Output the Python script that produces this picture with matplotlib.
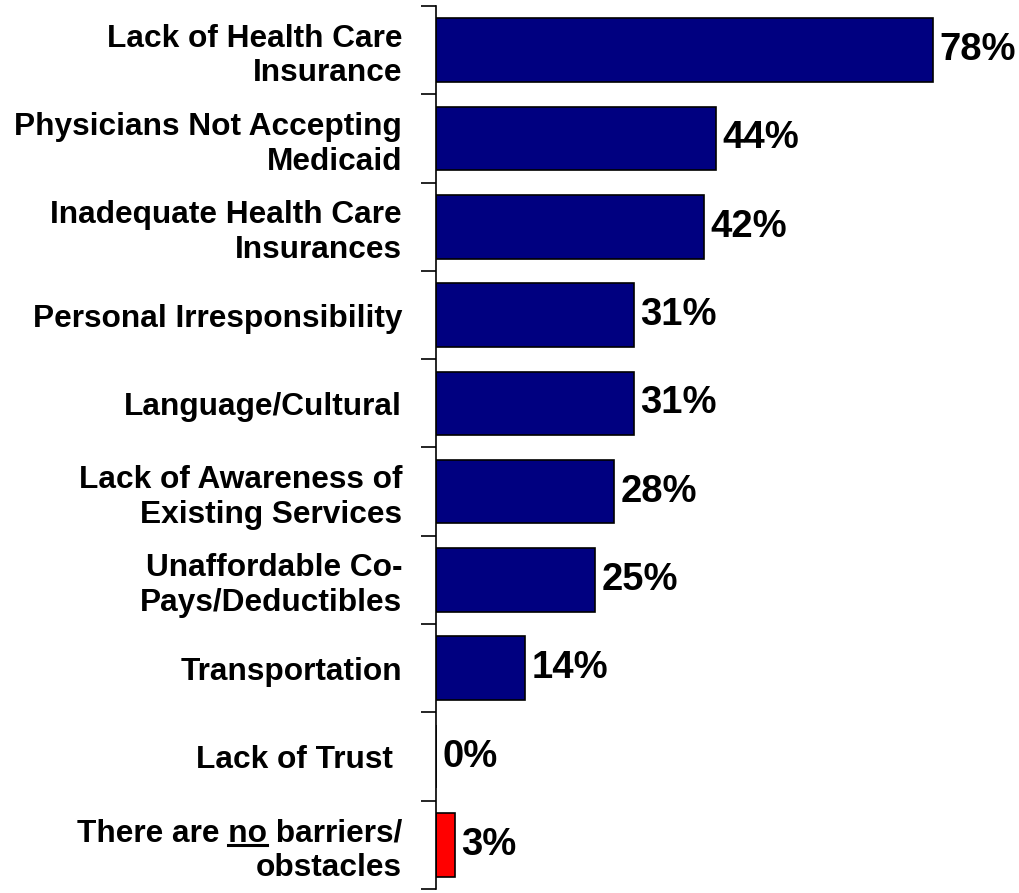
import matplotlib
matplotlib.use("Agg")
import matplotlib.pyplot as plt
from matplotlib.font_manager import FontProperties
from matplotlib.lines import Line2D

categories = [
    "Lack of Health Care\nInsurance",
    "Physicians Not Accepting\nMedicaid",
    "Inadequate Health Care\nInsurances",
    "Personal Irresponsibility",
    "Language/Cultural",
    "Lack of Awareness of\nExisting Services",
    "Unaffordable Co-\nPays/Deductibles",
    "Transportation",
    "Lack of Trust ",
    "There are no barriers/\nobstacles",
]
values = [78, 44, 42, 31, 31, 28, 25, 14, 0, 3]
bar_colors = ["#000080"] * 9 + ["#ff0000"]

plt.rcParams["font.family"] = ["Liberation Sans", "DejaVu Sans"]
plt.rcParams["font.weight"] = "bold"

label_size = 22.8
value_size = 27.5

fig = plt.figure(figsize=(10.19, 8.93), dpi=100)
ax = fig.add_axes([0.428, 0.0045, 0.572, 0.9888])

ypos = list(range(len(categories)))
ax.barh(ypos, values, height=0.72, color=bar_colors, edgecolor="black", linewidth=1.2)
ax.set_ylim(len(categories) - 0.5, -0.5)
ax.set_xlim(0, 91.5)

for y, v in zip(ypos, values):
    ax.text(v + 1.0, y, f"{v}%", va="center", ha="left", fontsize=value_size, fontweight="bold")

# category labels sit between the ticks, ticks sit at the boundaries
ax.set_yticks(ypos)
ax.set_yticklabels(categories, fontsize=label_size, fontweight="bold")
ax.tick_params(axis="y", which="major", length=0, pad=24.5)
ax.set_yticks([i - 0.5 for i in range(len(categories) + 1)], minor=True)
ax.tick_params(axis="y", which="minor", length=11, width=1.2, direction="out")
ax.set_xticks([])
for side in ["top", "right", "bottom"]:
    ax.spines[side].set_visible(False)
ax.spines["left"].set_linewidth(1.2)

# underline "no" in the last label
fig.canvas.draw()
renderer = fig.canvas.get_renderer()
lab = ax.get_yticklabels()[-1]
bb = lab.get_window_extent(renderer)
fp = FontProperties(family="Liberation Sans", weight="bold", size=label_size)
line1 = "There are no barriers/"
w1, _, _ = renderer.get_text_width_height_descent(line1, fp, ismath=False)
wpre, _, _ = renderer.get_text_width_height_descent("There are no", fp, ismath=False)
wno, _, _ = renderer.get_text_width_height_descent("no", fp, ismath=False)
_, hlp, dlp = renderer.get_text_width_height_descent("lp", fp, ismath=False)
left = bb.x1 - w1
x0 = left + wpre - wno
x1 = left + wpre
base = bb.y1 - (hlp - dlp)
yu = base - 0.12 * fp.get_size_in_points() * fig.dpi / 72
inv = fig.transFigure.inverted()
(fx0, fy), (fx1, _) = inv.transform([(x0, yu), (x1, yu)])
fig.add_artist(Line2D([fx0, fx1], [fy, fy], color="black", linewidth=2.2, transform=fig.transFigure))

fig.savefig("out.png", dpi=100)
